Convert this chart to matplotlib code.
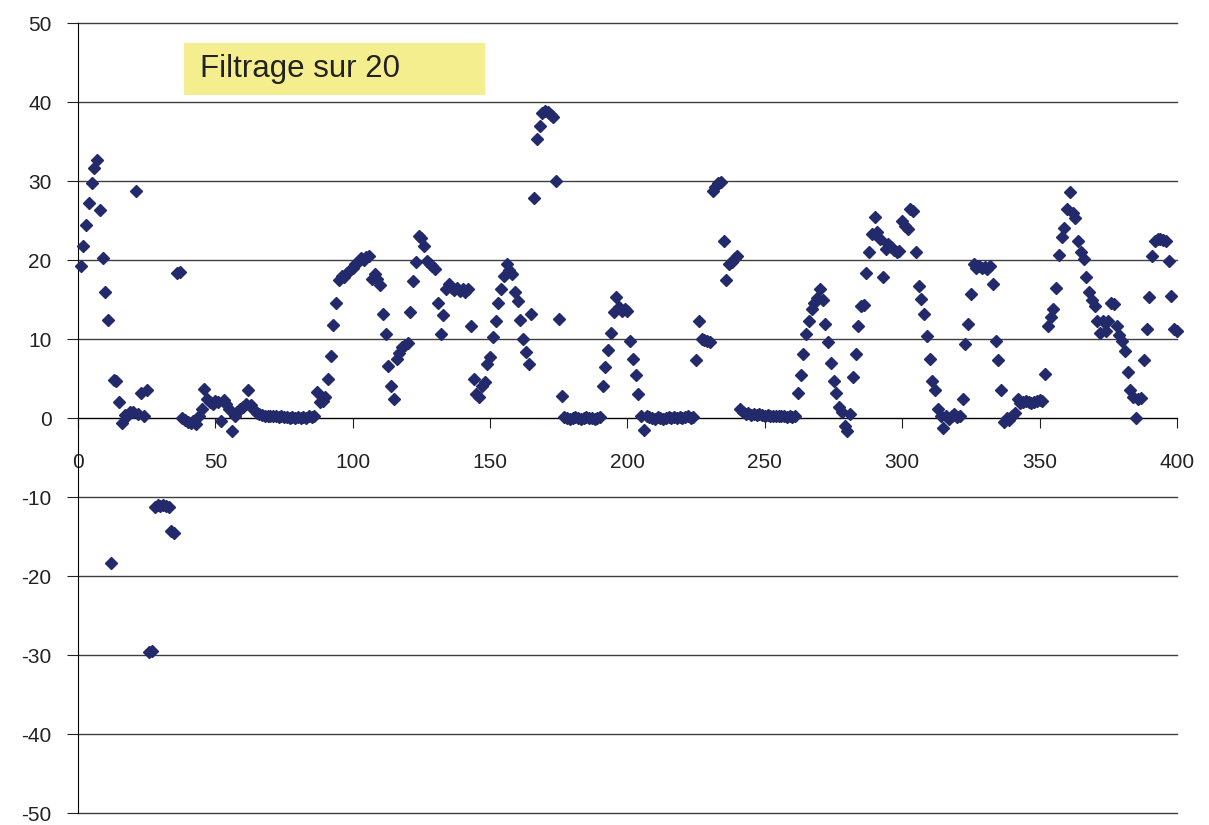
import matplotlib
matplotlib.use("Agg")
import matplotlib.pyplot as plt
import numpy as np
from matplotlib.patches import Rectangle

plt.rcParams['font.family'] = ['Liberation Sans', 'DejaVu Sans']
plt.rcParams['axes.unicode_minus'] = False

# filtered signal, one value per sample (1..400)
values = [
    19.3, 21.8, 24.4, 27.2, 29.8, 31.6, 32.7, 26.3, 20.2, 16.0,
    12.4, -18.3, 4.8, 4.7, 2.0, -0.6, 0.4, 0.2, 0.8, 0.7,
    28.8, 0.5, 3.2, 0.3, 3.6, -29.6, -29.5, -11.2, -11.0, -11.1,
    -11.0, -11.1, -11.2, -14.3, -14.5, 18.4, 18.5, 0.0, -0.3, -0.5,
    -0.6, -0.4, -0.7, 0.2, 1.1, 3.7, 2.4, 2.0, 1.8, 2.2,
    2.0, -0.4, 2.3, 1.8, 1.2, -1.6, 0.3, 0.8, 1.1, 1.4,
    1.8, 3.5, 1.6, 1.0, 0.6, 0.5, 0.4, 0.3, 0.3, 0.2,
    0.2, 0.2, 0.1, 0.2, 0.1, 0.1, 0.0, 0.1, 0.0, 0.1,
    0.0, 0.1, 0.0, 0.2, 0.1, 0.3, 3.3, 2.0, 2.2, 2.6,
    4.9, 7.9, 11.8, 14.6, 17.5, 18.0, 17.8, 18.3, 18.8, 19.0,
    19.5, 19.8, 20.2, 20.0, 20.4, 20.5, 17.6, 18.2, 17.6, 16.8,
    13.2, 10.6, 6.6, 4.1, 2.4, 7.5, 8.2, 9.0, 9.3, 9.5,
    13.4, 17.4, 19.7, 23.1, 22.8, 21.8, 19.9, 19.5, 19.2, 18.9,
    14.6, 10.6, 13.0, 16.3, 17.0, 16.5, 16.2, 16.4, 16.1, 16.3,
    16.0, 16.3, 11.7, 4.9, 3.0, 2.6, 4.0, 4.6, 6.8, 7.7,
    10.2, 12.3, 14.5, 16.3, 18.0, 19.5, 18.8, 18.2, 15.9, 14.8,
    12.4, 10.0, 8.3, 6.8, 13.2, 27.8, 35.3, 37.0, 38.6, 38.9,
    38.7, 38.4, 38.1, 30.0, 12.5, 2.8, 0.1, 0.0, -0.1, 0.0,
    0.1, 0.0, -0.1, 0.0, 0.1, 0.0, 0.0, -0.1, 0.0, 0.1,
    4.0, 6.4, 8.6, 10.8, 13.4, 15.3, 14.0, 13.6, 13.8, 13.5,
    9.8, 7.5, 5.4, 3.0, 0.3, -1.5, 0.2, 0.1, 0.0, -0.1,
    0.1, 0.0, -0.1, 0.0, 0.1, 0.0, 0.1, 0.0, 0.1, 0.0,
    0.1, 0.2, 0.0, 0.1, 7.4, 12.3, 10.0, 9.9, 9.7, 9.6,
    28.8, 29.3, 29.7, 29.9, 22.4, 17.5, 19.5, 19.8, 20.2, 20.5,
    1.1, 0.8, 0.5, 0.6, 0.4, 0.5, 0.4, 0.5, 0.4, 0.3,
    0.4, 0.3, 0.3, 0.2, 0.3, 0.2, 0.2, 0.1, 0.2, 0.1,
    0.2, 3.2, 5.4, 8.1, 10.6, 12.3, 13.8, 14.5, 15.2, 16.3,
    15.0, 11.9, 9.6, 7.0, 4.7, 3.2, 1.4, 0.8, -1.0, -1.6,
    0.5, 5.2, 8.1, 11.7, 14.2, 14.3, 18.4, 21.0, 23.3, 25.4,
    23.5, 22.7, 17.8, 21.4, 22.0, 21.6, 21.3, 21.0, 21.2, 25.0,
    24.3, 23.9, 26.5, 26.2, 21.0, 16.7, 15.1, 13.2, 10.4, 7.5,
    4.7, 3.5, 1.1, 0.2, -1.2, 0.3, -0.1, 0.2, 0.5, 0.1,
    0.3, 2.4, 9.4, 11.9, 15.7, 19.5, 19.0, 19.3, 19.0, 19.1,
    18.9, 19.2, 17.0, 9.8, 7.3, 3.5, -0.5, 0.0, -0.2, 0.3,
    0.6, 2.4, 1.9, 2.0, 2.1, 2.0, 1.9, 2.0, 2.2, 2.3,
    2.2, 5.6, 11.7, 12.8, 13.8, 16.5, 20.6, 22.9, 24.1, 26.5,
    28.6, 25.9, 25.3, 22.4, 21.0, 20.1, 17.8, 15.9, 15.0, 14.2,
    12.3, 10.8, 12.3, 11.0, 12.3, 14.6, 14.4, 11.7, 10.5, 9.8,
    8.5, 5.8, 3.5, 2.6, 0.0, 2.4, 2.5, 7.3, 11.3, 15.3,
    20.5, 22.4, 22.7, 22.6, 22.5, 22.4, 19.9, 15.5, 11.3, 11.0,
]
samples = np.arange(1, len(values) + 1)

x_ticks = [0, 50, 100, 150, 200, 250, 300, 350, 400]
y_ticks = [-50, -40, -30, -20, -10, 0, 10, 20, 30, 40, 50]
label = "Filtrage sur 20"

fig = plt.figure(figsize=(12.09, 8.25), dpi=100)
ax = fig.add_axes([0.0645, 0.0145, 0.909, 0.9576])

ax.plot(samples, values, linestyle='none', marker='D', ms=6.6,
        color='#222A6C', mec='#222A6C', clip_on=False, zorder=5)

ax.set_xlim(0, 400)
ax.set_ylim(-50, 50)
ax.set_xticks(x_ticks)
ax.set_yticks(y_ticks)

# grid + axes like the old Excel chart
ax.set_axisbelow(True)
ax.yaxis.grid(True, color='#404040', linewidth=1.0, clip_on=False)
ax.spines['top'].set_visible(False)
ax.spines['right'].set_visible(False)
ax.spines['bottom'].set_position(('data', 0))
ax.spines['bottom'].set_color('black')
ax.spines['left'].set_color('black')
ax.tick_params(axis='y', direction='out', length=8, pad=11, labelsize=15, colors='#222222')
ax.tick_params(axis='x', direction='out', length=7, pad=18, labelsize=15, colors='#222222')

# yellow label box
ax.add_patch(Rectangle((0.0965, 0.9089), 0.2738, 0.0658, transform=ax.transAxes,
                       facecolor='#F4EE8E', edgecolor='none', zorder=3))
ax.text(0.111, 0.9418, label, transform=ax.transAxes, ha='left', va='center',
        fontsize=22.5, color='#222222', zorder=4)

fig.savefig('out.png', dpi=100)
